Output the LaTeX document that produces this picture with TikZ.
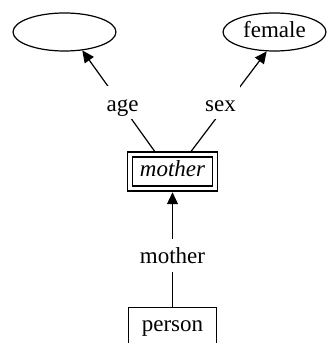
\documentclass[tikz,border=0pt]{standalone}
\usepackage{fontspec}
\setmainfont{Liberation Serif}
\usetikzlibrary{arrows.meta,shapes.geometric}
\begin{document}
\begin{tikzpicture}[x=1pt,y=1pt,
  every node/.style={font=\fontsize{23}{27}\selectfont, text height=15.5pt, text depth=5pt, inner sep=0pt},
  val/.style={draw, ellipse, line width=1.2pt, minimum width=103pt, minimum height=38pt},
  entbox/.style={draw, line width=1.2pt, double, double distance=3.7pt, minimum width=85pt, minimum height=34pt},
  plainbox/.style={draw, line width=1.2pt, minimum width=88pt, minimum height=38.5pt},
  lbl/.style={fill=white, text height=22pt, text depth=5pt, inner xsep=4pt, inner ysep=3pt},
  edgeline/.style={line width=1.2pt, -{Triangle[length=12pt,width=11pt]}}
]
\useasboundingbox (0,0) rectangle (327,343);
\node[val] (ageval) at (64.5,311) {};
\node[val] (female) at (274.5,311) {female};
\node[entbox] (mother) at (172.5,171.5) {\itshape mother};
\node[plainbox] (person) at (172.5,16.25) {person};
\draw[edgeline, shorten <=3pt] ([xshift=-16pt]mother.north) -- (ageval.-46);
\draw[edgeline, shorten <=3pt] ([xshift=16.7pt]mother.north) -- (female.248);
\draw[edgeline, shorten >=3.15pt] (person.north) -- (mother.south);
\node[lbl] (agelbl) at (122.5,240) {age};
\node[lbl] (sexlbl) at (220.5,240) {sex};
\node[lbl] (motherlbl) at (172.5,87.5) {mother};
\end{tikzpicture}
\end{document}
